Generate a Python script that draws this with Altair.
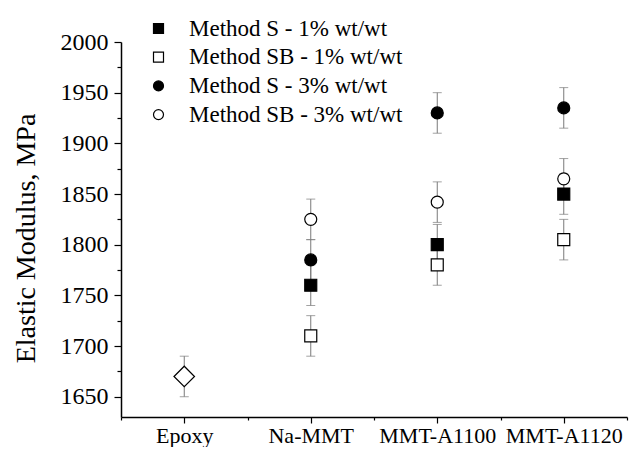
import json
import altair as alt
import pandas as pd

categories = ["Epoxy", "Na-MMT", "MMT-A1100", "MMT-A1120"]
series_names = ["Method S - 1% wt/wt", "Method SB - 1% wt/wt",
                "Method S - 3% wt/wt", "Method SB - 3% wt/wt"]
epoxy_name = "Epoxy"
epoxy_value = [1670]
s_1pct = [1760, 1800, 1850]
sb_1pct = [1710, 1780, 1805]
s_3pct = [1785, 1930, 1935]
sb_3pct = [1825, 1842, 1865]
error = 20
y_ticks = [1650, 1675, 1700, 1725, 1750, 1775, 1800, 1825, 1850, 1875,
           1900, 1925, 1950, 1975, 2000]
x_ticks = [0.5, 1, 1.5, 2, 2.5, 3, 3.5, 4, 4.5]

rows = [{"pos": 1, "series": epoxy_name, "value": epoxy_value[0]}]
for name, vals in zip(series_names, [s_1pct, sb_1pct, s_3pct, sb_3pct]):
    for i, v in enumerate(vals):
        rows.append({"pos": i + 2, "series": name, "value": v})
df = pd.DataFrame(rows)
df["lo"] = df["value"] - error
df["hi"] = df["value"] + error

FONT = "Liberation Serif"
GREY = "#7a7a7a"

x_enc = alt.X(
    "pos:Q",
    scale=alt.Scale(domain=[0.5, 4.5], nice=False, zero=False),
    axis=alt.Axis(
        values=x_ticks,
        labelExpr="datum.value % 1 === 0 ? " + json.dumps(categories) + "[datum.value - 1] : ''",
        title=None,
        grid=False,
        labelFont=FONT, labelFontSize=22, labelColor="black",
        labelPadding=2,
        tickSize={"condition": {"test": "datum.value % 1 !== 0", "value": 3}, "value": 6},
        tickColor="black", tickWidth=1.2,
        domainColor="black", domainWidth=1.5,
    ),
)

y_axis = alt.Axis(
    values=y_ticks,
    labelExpr="datum.value % 50 === 0 ? datum.label : ''",
    format="d",
    title="Elastic Modulus, MPa",
    titleFont=FONT, titleFontSize=28, titleFontWeight="normal", titleColor="black",
    titleAngle=270, titleAlign="center", titleBaseline="alphabetic",
    titleX=-87, titleY=196,
    grid=False,
    labelFont=FONT, labelFontSize=24, labelColor="black",
    labelPadding=6,
    tickSize={"condition": {"test": "datum.value % 50 !== 0", "value": 4}, "value": 7},
    tickColor="black", tickWidth=1.2,
    domainColor="black", domainWidth=1.5,
)
y_scale = alt.Scale(domain=[1630, 2000], nice=False, zero=False)

base = alt.Chart(df)

bars = base.mark_rule(color=GREY, strokeWidth=1).encode(
    x=x_enc,
    y=alt.Y("lo:Q", scale=y_scale, axis=y_axis),
    y2="hi:Q",
)
cap_lo = base.mark_tick(orient="horizontal", size=9, thickness=1, color=GREY).encode(
    x=x_enc, y=alt.Y("lo:Q", scale=y_scale, axis=y_axis)
)
cap_hi = base.mark_tick(orient="horizontal", size=9, thickness=1, color=GREY).encode(
    x=x_enc, y=alt.Y("hi:Q", scale=y_scale, axis=y_axis)
)

legend = alt.Legend(
    title=None, orient="none",
    legendX=26, legendY=-25, direction="vertical",
    labelFont=FONT, labelFontSize=23, labelColor="black", labelLimit=400,
    symbolSize=100, symbolStrokeWidth=1.2,
    labelOffset=19, rowPadding=4.7, padding=0,
)

points = base.transform_filter(
    alt.datum.series != epoxy_name
).mark_point(filled=False, strokeWidth=1.2, opacity=1, size=144).encode(
    x=x_enc,
    y=alt.Y("value:Q", scale=y_scale, axis=y_axis),
    shape=alt.Shape("series:N", scale=alt.Scale(
        domain=series_names, range=["square", "square", "circle", "circle"]),
        legend=legend),
    fill=alt.Fill("series:N", scale=alt.Scale(
        domain=series_names, range=["black", "white", "black", "white"]),
        legend=legend),
    stroke=alt.Stroke("series:N", scale=alt.Scale(
        domain=series_names, range=["black", "black", "black", "black"]),
        legend=legend),
)

epoxy = base.transform_filter(
    alt.datum.series == epoxy_name
).mark_point(shape="diamond", filled=True, fill="white", stroke="black",
             strokeWidth=1.2, opacity=1, size=420).encode(
    x=x_enc,
    y=alt.Y("value:Q", scale=y_scale, axis=y_axis),
)

chart = alt.layer(bars, cap_lo, cap_hi, epoxy, points).properties(
    width=506, height=375,
    autosize=alt.AutoSizeParams(type="none"),
    padding={"left": 113, "top": 34, "right": 7, "bottom": 30},
    background="white",
).configure_view(stroke=None)

chart.save("out.html", embed_options={"renderer": "svg", "actions": False})
